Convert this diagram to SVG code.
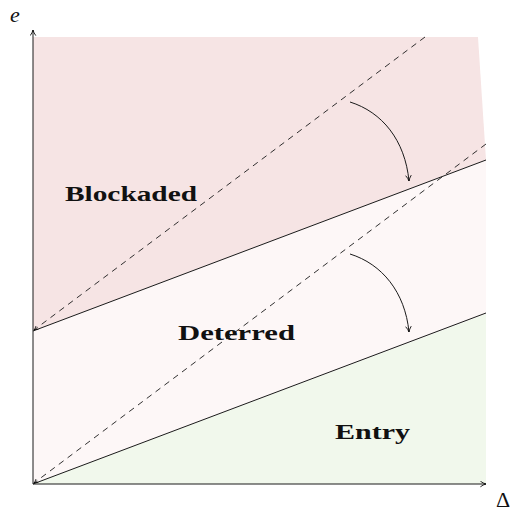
<svg xmlns="http://www.w3.org/2000/svg" width="513" height="516" viewBox="0 0 513 516">
<defs>
<marker id="ah" viewBox="0 0 10 10" refX="9" refY="5" markerWidth="7" markerHeight="7" markerUnits="userSpaceOnUse" orient="auto">
<path d="M1,1 Q5,4 9,5 Q5,6 1,9" fill="none" stroke="#000" stroke-width="1.2"/>
</marker>
<marker id="sh" viewBox="0 0 10 10" refX="9" refY="5" markerWidth="5" markerHeight="5" markerUnits="userSpaceOnUse" orient="auto-start-reverse">
<path d="M1,1 Q5,4 9,5 Q5,6 1,9" fill="none" stroke="#000" stroke-width="1.4"/>
</marker>
</defs>
<style>
.lbl{font-family:"Liberation Serif","DejaVu Serif",serif;font-weight:bold;font-size:21px;fill:#111}
.ax{font-family:"Liberation Serif","DejaVu Serif",serif;font-size:22px;fill:#111}
.ln{stroke:#1a1a1a;stroke-width:1;fill:none}
.dash{stroke:#1a1a1a;stroke-width:0.9;fill:none;stroke-dasharray:6,5}
</style>
<rect width="513" height="516" fill="#fff"/>
<g id="blockaded">
<polygon points="33,37 478,37 486,160 33,331" fill="#f6e4e4"/>
<text class="lbl" x="65" y="201" textLength="132" lengthAdjust="spacingAndGlyphs">Blockaded</text>
</g>
<g id="deterred">
<polygon points="33,331 486,160 486,314 33,484" fill="#fdf7f7"/>
<text class="lbl" x="178" y="340" textLength="117" lengthAdjust="spacingAndGlyphs">Deterred</text>
</g>
<g id="entry">
<polygon points="33,484 486,314 486,484" fill="#f1f8ec"/>
<text class="lbl" x="335" y="439" textLength="75" lengthAdjust="spacingAndGlyphs">Entry</text>
</g>
<g id="connectors">
<line class="ln" x1="33" y1="484" x2="33" y2="30" marker-end="url(#ah)"/>
<line class="ln" x1="33" y1="484" x2="486" y2="484" marker-end="url(#ah)"/>
<line class="ln" x1="33" y1="331" x2="486" y2="160"/>
<line class="ln" x1="33" y1="484" x2="486" y2="313"/>
<line class="dash" x1="425" y1="37" x2="34" y2="330" marker-end="url(#sh)"/>
<line class="dash" x1="486" y1="144" x2="34" y2="483" marker-end="url(#sh)"/>
<path class="ln" d="M350,102 C382,112 405,140 409,181" marker-end="url(#ah)"/>
<path class="ln" d="M350,254 C382,264 405,292 409,332" marker-end="url(#ah)"/>
</g>
<text class="ax" x="10" y="22" font-style="italic">e</text>
<text class="ax" x="496" y="507" font-size="24">Δ</text>
</svg>
